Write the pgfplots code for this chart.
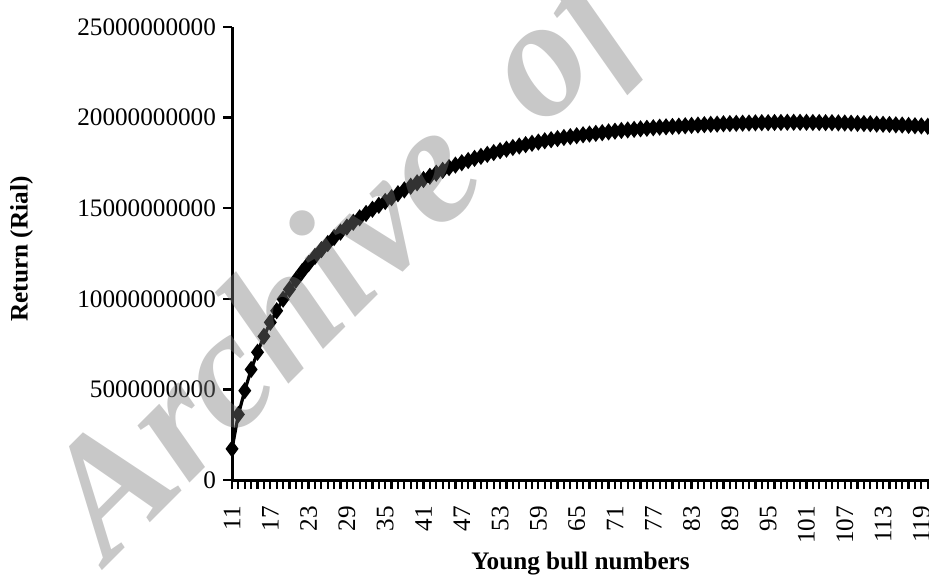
\documentclass[border=0pt]{standalone}
\usepackage{pgfplots}
\pgfplotsset{compat=1.18}
\usepackage{fontspec}
\setmainfont{Liberation Serif}
\pgfplotstableread{
x y
11 1.72e9
12 3.62e9
13 4.93e9
14 6.10e9
15 7.05e9
16 7.93e9
17 8.70e9
18 9.34e9
19 9.98e9
20 10.52e9
21 11.03e9
22 11.50e9
23 11.94e9
24 12.34e9
25 12.71e9
26 13.05e9
27 13.38e9
28 13.68e9
29 13.96e9
30 14.22e9
31 14.47e9
32 14.71e9
33 14.94e9
34 15.16e9
35 15.37e9
36 15.58e9
37 15.80e9
38 16.01e9
39 16.21e9
40 16.40e9
41 16.58e9
42 16.76e9
43 16.93e9
44 17.09e9
45 17.24e9
46 17.38e9
47 17.51e9
48 17.63e9
49 17.75e9
50 17.86e9
51 17.97e9
52 18.07e9
53 18.17e9
54 18.26e9
55 18.35e9
56 18.43e9
57 18.51e9
58 18.58e9
59 18.65e9
60 18.72e9
61 18.78e9
62 18.84e9
63 18.90e9
64 18.95e9
65 19.00e9
66 19.05e9
67 19.09e9
68 19.13e9
69 19.17e9
70 19.21e9
71 19.25e9
72 19.29e9
73 19.32e9
74 19.35e9
75 19.38e9
76 19.41e9
77 19.44e9
78 19.47e9
79 19.49e9
80 19.51e9
81 19.53e9
82 19.55e9
83 19.57e9
84 19.59e9
85 19.61e9
86 19.63e9
87 19.64e9
88 19.66e9
89 19.67e9
90 19.68e9
91 19.69e9
92 19.70e9
93 19.71e9
94 19.72e9
95 19.72e9
96 19.73e9
97 19.73e9
98 19.74e9
99 19.74e9
100 19.74e9
101 19.74e9
102 19.73e9
103 19.73e9
104 19.72e9
105 19.72e9
106 19.71e9
107 19.70e9
108 19.69e9
109 19.68e9
110 19.67e9
111 19.66e9
112 19.64e9
113 19.63e9
114 19.62e9
115 19.60e9
116 19.59e9
117 19.57e9
118 19.55e9
119 19.54e9
120 19.52e9
}\datatable
\begin{document}
\begin{tikzpicture}
\useasboundingbox (0,0) rectangle (464.5pt,288.5pt);
\begin{axis}[
  at={(116pt,48.5pt)}, anchor=south west,
  scale only axis, width=348.5pt, height=226.5pt,
  xmin=11, xmax=120.2, ymin=0, ymax=25e9,
  axis lines*=left,
  axis line style={line width=1.5pt},
  scaled y ticks=false,
  xtick={11,17,...,119},
  minor xtick={11,...,120},
  ytick={0,5e9,10e9,15e9,20e9,25e9},
  yticklabels={0,5000000000,10000000000,15000000000,20000000000,25000000000},
  xticklabels={11,17,23,29,35,41,47,53,59,65,71,77,83,89,95,101,107,113,119},
  tick align=outside,
  major tick length=4.5pt, minor tick length=4.5pt,
  every tick/.style={black, line width=1.1pt},
  tick label style={font=\fontsize{12.6}{15}\selectfont},
  xticklabel style={yshift=-5pt, rotate=90, anchor=east},
  /pgf/number format/assume math mode=true,
  xlabel={Young bull numbers},
  ylabel={Return (Rial)},
  label style={font=\fontsize{12.6}{15}\selectfont\bfseries},
  xlabel style={at={(axis description cs:0.5,-0.185)}, anchor=center},
  ylabel style={at={(axis description cs:-0.302,0.51)}, anchor=center, rotate=0},
  clip=false,
]
\addplot[black, line width=1.6pt, mark=diamond*, mark size=3pt, mark options={solid, fill=black}] table[x=x,y=y] {\datatable};
\end{axis}
\begin{scope}
\clip (0,0) rectangle (464.5pt,288.5pt);
\node[rotate=45, anchor=base west, inner sep=0pt, text=black!52, opacity=0.41,
  font=\fontsize{84}{90}\selectfont\bfseries\itshape] at (54pt,6pt) {Archive\hspace{16pt} of SID};
\end{scope}
\end{tikzpicture}
\end{document}
